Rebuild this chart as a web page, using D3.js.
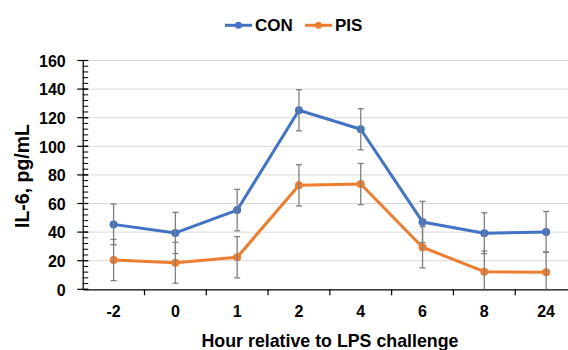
<!DOCTYPE html>
<html><head><meta charset="utf-8">
<script src="https://cdn.jsdelivr.net/npm/d3@7"></script>
<style>body{margin:0;background:#fff}svg{display:block}text{font-family:"Liberation Sans",Arial,sans-serif;font-weight:bold;fill:#000}</style>
</head><body><svg id="c" width="568" height="350"></svg>
<script>
const categories = ["-2","0","1","2","4","6","8","24"];
const conValues = [45.4, 39.4, 55.4, 125.2, 111.9, 47.1, 39.2, 40.1];
const conErrors = [14.2, 14.4, 14.5, 14.4, 14.4, 14.4, 14.3, 14.3];
const pisValues = [20.5, 18.6, 22.4, 72.7, 73.6, 29.4, 12.3, 11.9];
const pisErrors = [14.4, 14.3, 14.4, 14.4, 14.4, 14.4, 14.5, 14.2];
const yTicks = [0, 20, 40, 60, 80, 100, 120, 140, 160];
const seriesNames = ["CON", "PIS"];
const colors = ["#4472C4", "#ED7D31"];

(function () {
const svg = d3.select("#c");
const pLeft = 82.7, pRight = 577, pTop = 60.5, pBottom = 289.3;
const x = d3.scaleBand().domain(categories).range([pLeft, pRight]);
const y = d3.scaleLinear().domain([0, 160]).range([pBottom, pTop]);

// gridlines
svg.append("g").selectAll("line").data(yTicks.filter(d => d > 0)).join("line")
  .attr("x1", pLeft).attr("x2", 568).attr("y1", d => y(d)).attr("y2", d => y(d))
  .attr("stroke", "#d9d9d9").attr("stroke-width", 1);

// y axis
const yAxis = svg.append("g").attr("transform", `translate(${pLeft},0)`)
  .call(d3.axisLeft(y).tickValues(yTicks).tickSize(0).tickPadding(17));
yAxis.select(".domain").attr("stroke", "#000").attr("stroke-width", 1.2);
yAxis.selectAll("text").attr("font-size", 16).attr("font-family", null).attr("dy", "0.36em");
const minor = d3.range(0, 161, 4);
svg.append("g").selectAll("line").data(minor).join("line")
  .attr("x1", pLeft).attr("x2", pLeft + 5.5).attr("y1", d => y(d)).attr("y2", d => y(d))
  .attr("stroke", "#000").attr("stroke-width", 1);
svg.append("g").selectAll("line").data(yTicks).join("line")
  .attr("x1", pLeft - 5.5).attr("x2", pLeft + 5.5).attr("y1", d => y(d)).attr("y2", d => y(d))
  .attr("stroke", "#000").attr("stroke-width", 1.2);

// x axis
const xAxis = svg.append("g").attr("transform", `translate(0,${pBottom})`)
  .call(d3.axisBottom(x).tickSize(0).tickPadding(16).tickSizeOuter(0));
xAxis.select(".domain").attr("stroke", "#000").attr("stroke-width", 1.2);
xAxis.selectAll("text").attr("font-size", 16).attr("font-family", null);
svg.append("g").selectAll("line").data(categories.slice(1)).join("line")
  .attr("x1", d => x(d)).attr("x2", d => x(d)).attr("y1", pBottom).attr("y2", pBottom + 6)
  .attr("stroke", "#000").attr("stroke-width", 1.2);

const series = [
  {name: seriesNames[0], values: conValues, errors: conErrors, color: colors[0]},
  {name: seriesNames[1], values: pisValues, errors: pisErrors, color: colors[1]}
];
const cx = c => x(c) + x.bandwidth() / 2;
const line = d3.line().x((d, i) => cx(categories[i])).y(d => y(d));

series.forEach(s => {
  svg.append("path").datum(s.values).attr("d", line)
    .attr("fill", "none").attr("stroke", s.color).attr("stroke-width", 3).attr("stroke-linejoin", "round");
  svg.append("g").selectAll("circle").data(s.values).join("circle")
    .attr("cx", (d, i) => cx(categories[i])).attr("cy", d => y(d)).attr("r", 4)
    .attr("fill", s.color);
});

series.forEach(s => {
  const g = svg.append("g").attr("stroke", "#7f7f7f").attr("stroke-width", 1.3);
  s.values.forEach((v, i) => {
    const xc = cx(categories[i]);
    const hi = v + s.errors[i], lo = Math.max(0, v - s.errors[i]);
    g.append("line").attr("x1", xc).attr("x2", xc).attr("y1", y(hi)).attr("y2", y(lo));
    g.append("line").attr("x1", xc - 3).attr("x2", xc + 3).attr("y1", y(hi)).attr("y2", y(hi));
    if (v - s.errors[i] > 0)
      g.append("line").attr("x1", xc - 3).attr("x2", xc + 3).attr("y1", y(lo)).attr("y2", y(lo));
  });
});

const legendX = [225, 305];
series.forEach((s, i) => {
  const lx = legendX[i], ly = 25.3;
  svg.append("line").attr("x1", lx).attr("x2", lx + 27).attr("y1", ly).attr("y2", ly)
    .attr("stroke", s.color).attr("stroke-width", 3);
  svg.append("circle").attr("cx", lx + 13.5).attr("cy", ly).attr("r", 3.5).attr("fill", s.color);
  svg.append("text").attr("x", lx + 30).attr("y", ly + 6).attr("font-size", 17).text(s.name);
});

svg.append("text").attr("x", 330).attr("y", 346.5).attr("text-anchor", "middle")
  .attr("font-size", 17.8).text("Hour relative to LPS challenge");
svg.append("text").attr("transform", `translate(28.5,176) rotate(-90)`).attr("text-anchor", "middle")
  .attr("font-size", 19.5).text("IL-6, pg/mL");
})();
</script></body></html>
